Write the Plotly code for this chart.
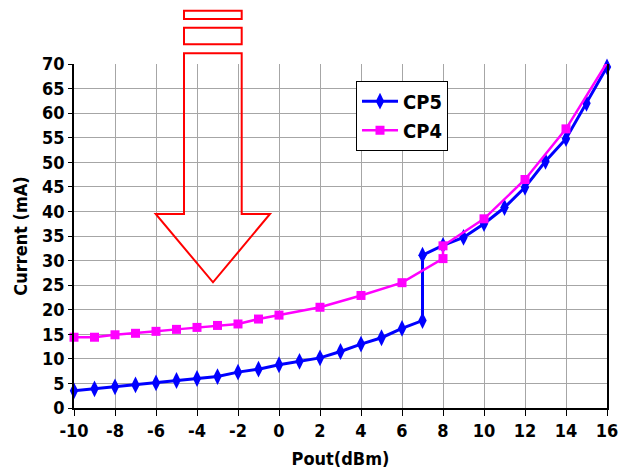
import plotly.graph_objects as go

# ---- data ----
cp5_x = [-10, -9, -8, -7, -6, -5, -4, -3, -2, -1, 0, 1, 2, 3, 4, 5, 6, 7, 7, 8, 9, 10, 11, 12, 13, 14, 15, 16]
cp5_y = [3.5, 3.9, 4.3, 4.7, 5.1, 5.6, 6.0, 6.4, 7.3, 7.9, 8.8, 9.5, 10.2, 11.5, 13.0, 14.3, 16.2, 17.8, 31.1, 33.1, 34.7, 37.5, 40.8, 44.9, 50.2, 54.8, 62.0, 69.4]
cp4_x = [-10, -9, -8, -7, -6, -5, -4, -3, -2, -1, 0, 2, 4, 6, 8, 8, 10, 12, 14, 16]
cp4_y = [14.4, 14.4, 14.9, 15.2, 15.6, 16.0, 16.4, 16.8, 17.1, 18.1, 18.9, 20.5, 22.9, 25.5, 30.4, 33.0, 38.5, 46.5, 56.8, 70.3]
x_ticks = [-10, -8, -6, -4, -2, 0, 2, 4, 6, 8, 10, 12, 14, 16]
y_ticks = [0, 5, 10, 15, 20, 25, 30, 35, 40, 45, 50, 55, 60, 65, 70]

W, H = 629, 471
L, R, T, B = 74, 607, 64, 408
FONT = "DejaVu Sans Condensed, Roboto Condensed, Liberation Sans Narrow, sans-serif"

fig = go.Figure()
fig.add_trace(go.Scatter(x=cp5_x, y=cp5_y, name="CP5", mode="lines+markers",
                         line=dict(color="#0000FF", width=3),
                         marker=dict(symbol="diamond-tall", size=12, color="#0000FF"),
                         cliponaxis=False))
fig.add_trace(go.Scatter(x=cp4_x, y=cp4_y, name="CP4", mode="lines+markers",
                         line=dict(color="#FF00FF", width=2.5),
                         marker=dict(symbol="square", size=9, color="#FF00FF"),
                         cliponaxis=False))

def px(x):
    return (x - L) / (R - L)

def py(y):
    return (B - y) / (B - T)

red = dict(color="#FF0000", width=2)
shapes = []
for (y0, y1) in [(10.7, 19), (27.7, 44.3)]:
    shapes.append(dict(type="rect", xref="paper", yref="paper",
                       x0=px(184), x1=px(241.7), y0=py(y1), y1=py(y0),
                       line=red, fillcolor="rgba(0,0,0,0)"))
pts = [(184, 53.3), (241.7, 53.3), (241.7, 214), (270, 214), (213, 282.3), (155.7, 214), (184, 214)]
path = "M " + " L ".join(f"{px(a):.5f},{py(b):.5f}" for a, b in pts) + " Z"
shapes.append(dict(type="path", xref="paper", yref="paper", path=path, line=red,
                   fillcolor="rgba(0,0,0,0)"))

fig.update_layout(
    width=W, height=H,
    margin=dict(l=L, r=W - R, t=T, b=H - B, pad=0),
    paper_bgcolor="white", plot_bgcolor="white",
    font=dict(family=FONT, size=18, color="black"),
    shapes=shapes,
    showlegend=True,
    legend=dict(x=px(356), y=py(80.7), xanchor="left", yanchor="top",
                bordercolor="black", borderwidth=1, bgcolor="white",
                font=dict(family=FONT, size=20, color="black", weight="bold"),
                itemwidth=36, tracegroupgap=0),
    xaxis=dict(range=[-10, 16], tickvals=x_ticks, ticktext=[str(v) for v in x_ticks],
               showgrid=True, gridcolor="#a6a6a6", gridwidth=1,
               showline=True, linecolor="black", linewidth=1.5,
               ticks="outside", ticklen=6, tickcolor="black",
               tickfont=dict(family=FONT, size=18, weight="bold"),
               zeroline=False, automargin=False,
               title=dict(text="<b>Pout(dBm)</b>", font=dict(family=FONT, size=18), standoff=12)),
    yaxis=dict(range=[0, 70], tickvals=y_ticks,
               showgrid=True, gridcolor="#a6a6a6", gridwidth=1,
               showline=True, linecolor="black", linewidth=1.5, mirror=True,
               ticks="outside", ticklen=4, tickcolor="black",
               tickfont=dict(family=FONT, size=18, weight="bold"),
               zeroline=False, automargin=False,
               title=dict(text="<b>Current (mA)</b>", font=dict(family=FONT, size=18), standoff=10)),
)

fig.write_html("out.html", config={"displayModeBar": False},
               post_script="document.body.style.margin='0';document.body.style.overflow='hidden';")
